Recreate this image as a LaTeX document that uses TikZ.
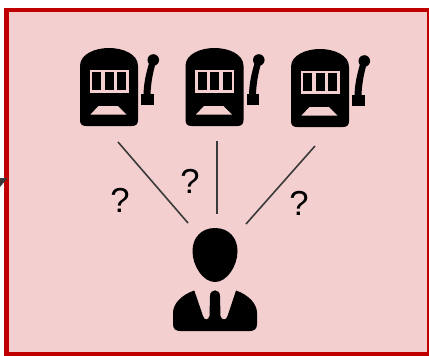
\documentclass[tikz,border=0pt]{standalone}
\usepackage{fontspec}
\setmainfont{Liberation Sans}
\definecolor{panelfill}{HTML}{F4CFCF}
\definecolor{panelline}{HTML}{C00000}
\definecolor{linkgrey}{HTML}{3A3A3A}
\tikzset{
  link/.style={draw=linkgrey,line width=1.2pt},
  mark q/.style={font=\fontsize{26}{26}\selectfont,text=black,inner sep=0pt},
  slot/.pic={
    \fill[black] (80,120) -- (80,66)
      .. controls (80,54) and (95,48) .. (109,48)
      .. controls (123,48) and (138,54) .. (138,66) -- (138,120)
      .. controls (138,124) and (136,126) .. (132,126) -- (86,126)
      .. controls (82,126) and (80,124) .. (80,120) -- cycle;
    \fill[panelfill] (89.5,69.5) rectangle (128.5,92.5);
    \fill[black] (92,72) rectangle (101,90);
    \fill[black] (104.5,72) rectangle (113.5,90);
    \fill[black] (117,72) rectangle (126,90);
    \fill[panelfill] (90.5,114.5) -- (98.5,106) -- (118,106) -- (126.5,114.5) -- cycle;
    \fill[black] (141,93.5) rectangle (153.5,105);
    \fill[black] (143.5,94) .. controls (144,80) and (147,70) .. (150,60)
      -- (156,62) .. controls (153,72) and (151,82) .. (150.5,94) -- cycle;
    \fill[black] (153.3,60) circle (5.8);
  }
}
\begin{document}
\begin{tikzpicture}[x=0.75pt,y=-0.75pt]
\useasboundingbox (0,0) rectangle (429,355);
\fill[white] (0,0) rectangle (429,355);
\begin{scope}
\clip (0,0) rectangle (429,355);
\draw[fill=panelfill,draw=panelline,line width=3.6pt] (6.5,10) rectangle (429.5,354.5);
\end{scope}
\fill[linkgrey] (0,178) -- (7.5,178) -- (0,187) -- cycle;
\pic at (0,0) {slot};
\pic at (105.5,0) {slot};
\pic at (211,1) {slot};
% person
\fill[black] (215,228) .. controls (229,228) and (237.5,238) .. (237.5,251)
  .. controls (237.5,266) and (227,282) .. (215,282)
  .. controls (203,282) and (192.5,266) .. (192.5,251)
  .. controls (192.5,238) and (201,228) .. (215,228) -- cycle;
\fill[black] (194.3,290.5) -- (203,316) .. controls (204,320.5) and (208.5,320.5) .. (209.5,316)
  -- (210,296) .. controls (210,288.5) and (220,288.5) .. (220,296) -- (220.5,316)
  .. controls (221.5,320.5) and (226.5,320.5) .. (227.5,316) -- (236,290.5)
  .. controls (249,295) and (257,304) .. (257,313) -- (257,324)
  .. controls (257,329) and (254,331) .. (250,331) -- (180,331)
  .. controls (176,331) and (173,329) .. (173,324) -- (173,313)
  .. controls (173,304) and (181,295) .. (194.3,290.5) -- cycle;
\coordinate (m1) at (118,142);
\coordinate (m2) at (217,141);
\coordinate (m3) at (315,146);
\coordinate (p1) at (188,223);
\coordinate (p2) at (217,214);
\coordinate (p3) at (246,224);
\draw[link] (m1) -- (p1);
\draw[link] (m2) -- (p2);
\draw[link] (m3) -- (p3);
\node[mark q] (q1) at (120,200) {?};
\node[mark q] (q2) at (190,181) {?};
\node[mark q] (q3) at (299,203) {?};
\end{tikzpicture}
\end{document}
